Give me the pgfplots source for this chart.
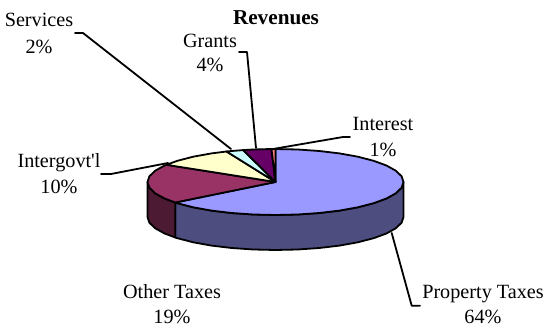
\documentclass[border=0pt]{standalone}
\usepackage{fontspec}
\setmainfont{Liberation Serif}
\usepackage{pgfplots}
\pgfplotsset{compat=1.18}
\definecolor{propTop}{HTML}{9999FF}
\definecolor{propSide}{HTML}{4D4D80}
\definecolor{otherTop}{HTML}{993366}
\definecolor{otherSide}{HTML}{4D1A33}
\definecolor{interTop}{HTML}{FFFFCC}
\definecolor{servTop}{HTML}{CCFFFF}
\definecolor{grantTop}{HTML}{660066}
\definecolor{interestTop}{HTML}{FF8080}
\tikzset{lab/.style={font=\fontsize{20.2}{20.2}\selectfont, anchor=center, inner sep=0pt}}
\pgfplotsset{
  slice/.style={draw=black, solid, line join=round, line cap=round, line width=1.8pt, mark=none},
  leader/.style={slice, fill=none}
}
\begin{document}
\begin{tikzpicture}
\begin{axis}[
  scale only axis, width=545pt, height=328pt,
  xmin=0, xmax=545, ymin=0, ymax=328, y dir=reverse,
  hide axis, clip=false
]
% Shares in percent: 64.3, 19.45, 10, 2.2, 3.55, 0.5

% Rim of the Property Taxes slice
\addplot[slice, fill=propSide] coordinates {
 (403.5,182)(401.6,187.7)(395.8,193.3)(386.4,198.5)(373.6,203.2)(357.8,207.3)(339.5,210.6)
 (319.3,213)(297.7,214.5)(275.5,215)(253.3,214.5)(231.7,213)(211.5,210.6)(193.2,207.3)(177.4,203.2)(175.3,202.5)
 (175.3,237.5)(177.4,238.2)(193.2,242.3)(211.5,245.6)(231.7,248)(253.3,249.5)(275.5,250)
 (297.7,249.5)(319.3,248)(339.5,245.6)(357.8,242.3)(373.6,238.2)(386.4,233.5)(395.8,228.3)(401.6,222.7)(403.5,217)
} -- cycle;
% Rim of the Other Taxes slice
\addplot[slice, fill=otherSide] coordinates {
 (175.3,202.5)(164.6,198.5)(155.2,193.3)(149.4,187.7)(147.5,182)
 (147.5,217)(149.4,222.7)(155.2,228.3)(164.6,233.5)(175.3,237.5)
} -- cycle;

% Top faces of the slices
\addplot[slice, fill=propTop] coordinates {
 (275.5,182)(275.5,149)(297.7,149.5)(319.3,151)(339.5,153.4)(357.8,156.7)(373.6,160.8)(386.4,165.5)
 (395.8,170.7)(401.6,176.3)(403.5,182)(401.6,187.7)(395.8,193.3)(386.4,198.5)(373.6,203.2)(357.8,207.3)
 (339.5,210.6)(319.3,213)(297.7,214.5)(275.5,215)(253.3,214.5)(231.7,213)(211.5,210.6)(193.2,207.3)(177.4,203.2)(175.3,202.5)
} -- cycle;
\addplot[slice, fill=otherTop] coordinates {
 (275.5,182)(175.3,202.5)(164.6,198.5)(155.2,193.3)(149.4,187.7)(147.5,182)(149.4,176.3)(155.2,170.7)(164.6,165.5)(166.4,164.8)
} -- cycle;
\addplot[slice, fill=interTop] coordinates {
 (275.5,182)(166.4,164.8)(177.4,160.8)(193.2,156.7)(211.5,153.4)(226.5,151.5)
} -- cycle;
\addplot[slice, fill=servTop] coordinates {
 (275.5,182)(226.5,151.5)(231.7,151)(243.2,150.1)
} -- cycle;
\addplot[slice, fill=grantTop] coordinates {
 (275.5,182)(243.2,150.1)(253.3,149.5)(271.5,149)
} -- cycle;
\addplot[slice, fill=interestTop] coordinates {
 (275.5,182)(271.5,149)(275.5,149)
} -- cycle;

% Leader lines
\addplot[leader] coordinates {(75,33)(83,33)(231,149)};
\addplot[leader] coordinates {(239,52)(247,52)(256,148)};
\addplot[leader] coordinates {(101,174)(111,174)(168,163)};
\addplot[leader] coordinates {(350,137)(343,137)(273,149)};
\addplot[leader] coordinates {(420,305.7)(411.7,305.7)(391.7,233)};

% Title and slice labels
\node[lab, font=\fontsize{21.2}{21.2}\selectfont\bfseries] at (axis cs:276,18) {Revenues};
\node[lab] at (axis cs:39,20) {Services};
\node[lab] at (axis cs:39,47) {2\%};
\node[lab] at (axis cs:210,41) {Grants};
\node[lab] at (axis cs:210,65) {4\%};
\node[lab] at (axis cs:59,163) {Intergovt\textquotesingle l};
\node[lab] at (axis cs:59,187) {10\%};
\node[lab] at (axis cs:383,124) {Interest};
\node[lab] at (axis cs:383,150) {1\%};
\node[lab] at (axis cs:483,294) {Property Taxes};
\node[lab] at (axis cs:483,317) {64\%};
\node[lab] at (axis cs:172,292) {Other Taxes};
\node[lab] at (axis cs:172,317) {19\%};
\end{axis}
\path[use as bounding box] (0,0) rectangle (545pt,328pt);
\end{tikzpicture}
\end{document}
